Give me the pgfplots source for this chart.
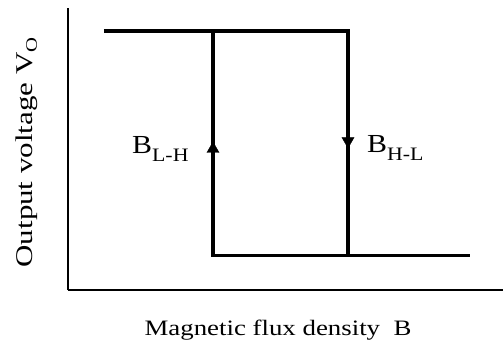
\documentclass[border=0pt]{standalone}
\usepackage{fontspec}
\setmainfont{Liberation Serif}
\newfontfamily\xlabfont{Liberation Serif}[FakeStretch=1.22]
\newfontfamily\ylabfont{Liberation Serif}[FakeStretch=1.29]
\newfontfamily\bfontw{Liberation Serif}[FakeStretch=1.15]
\usepackage{pgfplots}
\pgfplotsset{compat=1.18}

% switching field labels, e.g. B_{L-H}
\newcommand{\blab}[1]{{\bfontw\fontsize{26}{26}\selectfont B\raisebox{-7.5pt}{\fontsize{19}{19}\selectfont #1}}}

\begin{document}
\begin{tikzpicture}
\path[use as bounding box] (-68pt,-55pt) rectangle (435pt,290pt);
\begin{axis}[
  scale only axis,
  width=435pt, height=282pt,
  xmin=0, xmax=435, ymin=0, ymax=282,
  axis x line=bottom, axis y line=left,
  axis line style={-, line width=1.5pt, black},
  xtick=\empty, ytick=\empty,
  clip=false,
  xlabel={\xlabfont\fontsize{22}{22}\selectfont Magnetic flux density~~B},
  xlabel style={at={(axis description cs:0.4828,-0.1631)}, anchor=base, inner sep=0pt},
  ylabel={\ylabfont\fontsize{24}{24}\selectfont Output voltage V\raisebox{-4pt}{\fontsize{16}{16}\selectfont O}},
  ylabel style={at={(axis description cs:-0.0805,0.4876)}, anchor=base, inner sep=0pt},
]
% outer branch: high output until B_H-L, then low
\addplot[black, line width=3.8pt, line join=miter, line cap=butt, mark=none]
  coordinates {(36,259) (280,259) (280,34.5) (402,34.5)};
% inner branch: low output until B_L-H, then high
\addplot[black, line width=3.8pt, line join=miter, line cap=butt, mark=none]
  coordinates {(145,259) (145,34.5) (280,34.5)};
% direction arrows
\addplot[only marks, mark=triangle*, mark size=7pt, black]
  coordinates {(145,141)};
\addplot[only marks, mark=triangle*, mark size=7pt, black, mark options={rotate=180}]
  coordinates {(280,149)};
\node[anchor=base west, inner sep=0pt] at (axis cs:64,136) {\blab{L-H}};
\node[anchor=base west, inner sep=0pt] at (axis cs:299,137) {\blab{H-L}};
\end{axis}
\end{tikzpicture}
\end{document}
